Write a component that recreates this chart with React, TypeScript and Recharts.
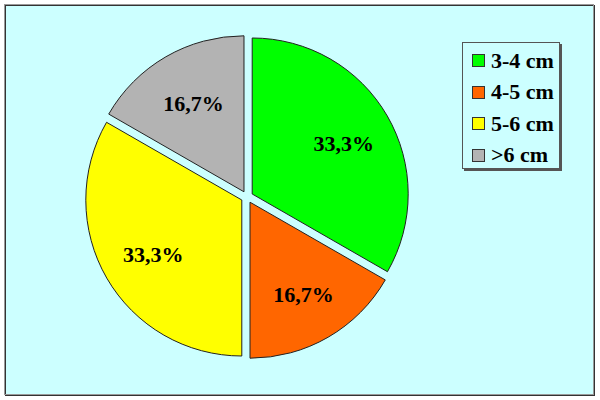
import { PieChart, Pie, Cell, Sector, Legend } from "recharts";

const LABELS = ["3-4 cm", "4-5 cm", "5-6 cm", ">6 cm"];
const SHARES = [33.3, 16.7, 33.3, 16.7];
const COLORS = ["#00ff00", "#ff6600", "#ffff00", "#b3b3b3"];

const data = LABELS.map((name, i) => ({ name, value: SHARES[i] }));

const RAD = Math.PI / 180;
const EXPLODE = 6;
const FONT = "Liberation Serif";

function ExplodedSlice(props: any) {
  const { cx, cy, midAngle } = props;
  const dx = EXPLODE * Math.cos(-midAngle * RAD);
  const dy = EXPLODE * Math.sin(-midAngle * RAD);
  return <Sector {...props} cx={cx + dx} cy={cy + dy} />;
}

function SliceLabel({ cx, cy, midAngle, value }: any) {
  const r = EXPLODE + 104;
  const x = cx + 1.5 + r * Math.cos(-midAngle * RAD);
  const y = cy + 2 + r * Math.sin(-midAngle * RAD);
  return (
    <text x={x} y={y} textAnchor="middle" dominantBaseline="central"
      style={{ fontFamily: FONT, fontWeight: "bold", fontSize: 22 }} fill="#000">
      {value.toFixed(1).replace(".", ",")}%
    </text>
  );
}

function LegendBox() {
  return (
    <div style={{ width: 98, height: 127, border: "1px solid #555", background: "#ccffff",
      boxShadow: "2px 2px 0 #555", boxSizing: "border-box", paddingTop: 2, paddingLeft: 9 }}>
      {LABELS.map((l, i) => (
        <div key={l} style={{ display: "flex", alignItems: "center", height: 31.5 }}>
          <span style={{ width: 11, height: 11, background: COLORS[i], border: "1px solid #333", marginRight: 6, flex: "none" }} />
          <span style={{ fontFamily: FONT, fontWeight: "bold", fontSize: 22, color: "#000", lineHeight: 1, whiteSpace: "nowrap" }}>{l}</span>
        </div>
      ))}
    </div>
  );
}

export default function App() {
  return (
    <div style={{ position: "absolute", left: 0, top: 0, width: 600, height: 400, background: "#fff" }}>
      <div style={{ position: "absolute", left: 4, top: 4, width: 590, height: 391, boxSizing: "border-box",
        background: "#ccffff", border: "1px solid #999", boxShadow: "inset 1px 1px 0 #333, 1px 1px 0 #333" }} />
      <div style={{ position: "absolute", left: 0, top: 0 }}>
        <PieChart width={600} height={400} margin={{ top: 0, right: 0, bottom: 0, left: 0 }}>
          <Pie data={data} dataKey="value" nameKey="name" cx={247} cy={197} outerRadius={156}
            startAngle={90} endAngle={-270} stroke="#222" strokeWidth={1}
            shape={ExplodedSlice} label={SliceLabel} labelLine={false} isAnimationActive={false}>
            {data.map((d, i) => <Cell key={d.name} fill={COLORS[i]} />)}
          </Pie>
          <Legend layout="vertical" align="right" verticalAlign="top" content={<LegendBox />}
            wrapperStyle={{ position: "absolute", left: 462, top: 42, width: 100 }} />
        </PieChart>
      </div>
    </div>
  );
}
